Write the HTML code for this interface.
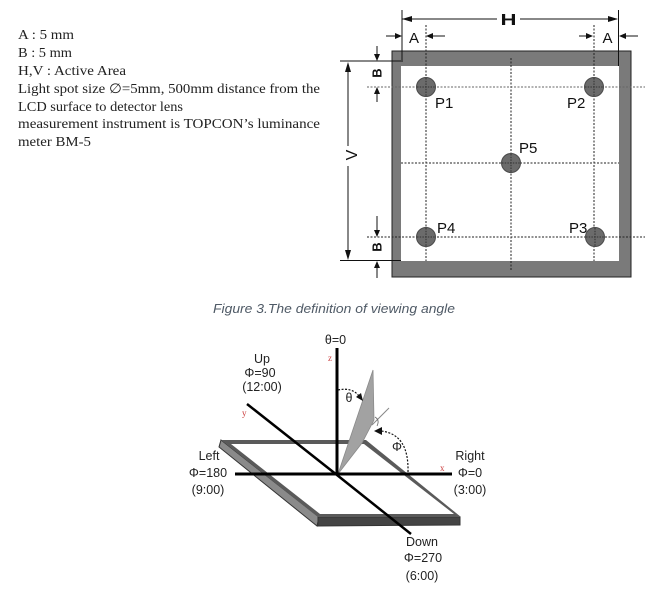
<!DOCTYPE html>
<html><head><meta charset="utf-8"><style>
html,body{margin:0;padding:0;background:#fff;}
svg{display:block;}
.s{font-family:"Liberation Serif",serif;fill:#222;font-size:13.5px;}
.a{font-family:"Liberation Sans",sans-serif;fill:#111;}
.b{font-family:"Liberation Sans",sans-serif;fill:#222;font-size:12.5px;text-anchor:middle;}
.r{font-family:"Liberation Serif",serif;fill:#c44;font-size:9px;}
</style></head><body>
<svg width="672" height="592" viewBox="0 0 672 592" xmlns="http://www.w3.org/2000/svg">
<!-- left text -->
<text class="s" x="18" y="39" textLength="56" lengthAdjust="spacingAndGlyphs">A : 5 mm</text>
<text class="s" x="18" y="57" textLength="54" lengthAdjust="spacingAndGlyphs">B : 5 mm</text>
<text class="s" x="18" y="75" textLength="108" lengthAdjust="spacingAndGlyphs">H,V : Active Area</text>
<text class="s" x="18" y="93" textLength="302" lengthAdjust="spacingAndGlyphs">Light spot size ∅=5mm, 500mm distance from the</text>
<text class="s" x="18" y="111" textLength="165" lengthAdjust="spacingAndGlyphs">LCD surface to detector lens</text>
<text class="s" x="18" y="128" textLength="302" lengthAdjust="spacingAndGlyphs">measurement instrument is TOPCON’s luminance</text>
<text class="s" x="18" y="146" textLength="73" lengthAdjust="spacingAndGlyphs">meter BM-5</text>

<!-- frame -->
<rect x="392" y="51" width="239" height="226" fill="#7a7a7a" stroke="#222" stroke-width="1"/>
<rect x="401" y="66" width="218" height="195" fill="#fff"/>
<!-- extension lines -->
<line x1="402" y1="10" x2="402" y2="62" stroke="#111" stroke-width="1"/>
<line x1="618.5" y1="10" x2="618.5" y2="66" stroke="#111" stroke-width="1"/>
<line x1="340" y1="61" x2="401" y2="61" stroke="#111" stroke-width="1"/>
<line x1="340" y1="260.5" x2="401" y2="260.5" stroke="#111" stroke-width="1"/>
<!-- dashed lines -->
<g stroke="#222" stroke-width="1" stroke-dasharray="2,1.5" fill="none">
<line x1="426" y1="25" x2="426" y2="261"/>
<line x1="594" y1="25" x2="594" y2="261"/>
<line x1="511" y1="58" x2="511" y2="270"/>
<line x1="367" y1="87" x2="645" y2="87" stroke="#666"/>
<line x1="401" y1="163" x2="619" y2="163"/>
<line x1="367" y1="237" x2="645" y2="237"/>
</g>
<!-- circles -->
<g fill="#6b6b6b" stroke="#4a4a4a" stroke-width="1">
<circle cx="426" cy="87" r="9.5"/>
<circle cx="594" cy="87" r="9.5"/>
<circle cx="511" cy="163" r="9.5"/>
<circle cx="426" cy="237" r="9.5"/>
<circle cx="595" cy="237" r="9.5"/>
</g>
<g stroke="#222" stroke-width="0.8" stroke-dasharray="1.5,1.2">
<line x1="426" y1="78" x2="426" y2="96"/><line x1="594" y1="78" x2="594" y2="96"/>
<line x1="511" y1="154" x2="511" y2="172"/><line x1="426" y1="228" x2="426" y2="246"/>
<line x1="595" y1="228" x2="595" y2="246"/>
<line x1="417" y1="87" x2="435" y2="87"/><line x1="585" y1="87" x2="603" y2="87"/>
<line x1="502" y1="163" x2="520" y2="163"/><line x1="417" y1="237" x2="435" y2="237"/>
<line x1="586" y1="237" x2="604" y2="237"/>
</g>
<g class="a" font-size="15">
<text x="435" y="108">P1</text>
<text x="567" y="108">P2</text>
<text x="519" y="153">P5</text>
<text x="437" y="233">P4</text>
<text x="569" y="233">P3</text>
</g>
<!-- H -->
<line x1="402" y1="19" x2="497" y2="19" stroke="#111"/>
<line x1="520" y1="19" x2="617" y2="19" stroke="#111"/>
<polygon points="402,19 412,16 412,22" fill="#111"/>
<polygon points="618,19 608,16 608,22" fill="#111"/>
<text class="a" x="508.5" y="25" font-size="16" font-weight="bold" text-anchor="middle" textLength="16" lengthAdjust="spacingAndGlyphs">H</text>
<!-- A arrows -->
<g stroke="#111" stroke-width="1">
<line x1="386" y1="36" x2="396" y2="36"/><line x1="432" y1="36" x2="445" y2="36"/>
<line x1="579" y1="36" x2="587" y2="36"/><line x1="625" y1="36" x2="638" y2="36"/>
</g>
<g fill="#111">
<polygon points="402,36 395,33 395,39"/><polygon points="426,36 433,33 433,39"/>
<polygon points="593,36 586,33 586,39"/><polygon points="619,36 626,33 626,39"/>
</g>
<text class="a" x="414" y="43" font-size="15" text-anchor="middle">A</text>
<text class="a" x="607.5" y="43" font-size="15" text-anchor="middle">A</text>
<!-- B arrows -->
<g stroke="#111" stroke-width="1">
<line x1="377" y1="46" x2="377" y2="55"/><line x1="377" y1="93" x2="377" y2="102"/>
<line x1="377" y1="216" x2="377" y2="231"/><line x1="377" y1="267" x2="377" y2="278"/>
</g>
<g fill="#111">
<polygon points="377,61 374,54 380,54"/><polygon points="377,87 374,94 380,94"/>
<polygon points="377,237 374,230 380,230"/><polygon points="377,261 374,268 380,268"/>
</g>
<text class="a" font-size="13" font-weight="bold" text-anchor="middle" transform="translate(381.5,73) rotate(-90)">B</text>
<text class="a" font-size="13" font-weight="bold" text-anchor="middle" transform="translate(381.5,247) rotate(-90)">B</text>
<!-- V -->
<line x1="348" y1="70" x2="348" y2="146" stroke="#111"/>
<line x1="348" y1="166" x2="348" y2="252" stroke="#111"/>
<polygon points="348,62 345,72 351,72" fill="#111"/>
<polygon points="348,260 345,250 351,250" fill="#111"/>
<text class="a" font-size="16" text-anchor="middle" transform="translate(357,155) rotate(-90)">V</text>

<!-- caption -->
<text x="213" y="313" font-family="Liberation Sans, sans-serif" font-style="italic" font-size="13" fill="#4f5a66" textLength="242" lengthAdjust="spacingAndGlyphs">Figure 3.The definition of viewing angle</text>

<!-- bottom panel -->
<polygon points="221,440 319,517 317,526 219,447" fill="#8a8a8a" stroke="#333" stroke-width="1"/>
<polygon points="318,517 460,517 460,525 318,526" fill="#444" stroke="#333" stroke-width="1"/>
<polygon points="221,440 366,440 461,517 318,517" fill="#5a5a5a"/>
<polygon points="231,444 364,444 454,514 320,514" fill="#fff"/>
<!-- sheet -->
<polygon points="373,370 374,420 362,443 338,474" fill="#a2a2a2" stroke="#8a8a8a" stroke-width="0.8"/>
<line x1="372" y1="425" x2="389" y2="408" stroke="#888" stroke-width="1"/>
<path d="M375,417 Q380,420 377,426" stroke="#666" fill="none" stroke-width="0.8"/>
<!-- axes -->
<line x1="337" y1="348" x2="337" y2="475" stroke="#000" stroke-width="3"/>
<line x1="235" y1="474" x2="452" y2="474" stroke="#000" stroke-width="3"/>
<polyline points="247,404 337,475 411,534" stroke="#000" stroke-width="2.5" fill="none"/>
<!-- arcs -->
<path d="M338,390 Q352,387 359,396" stroke="#111" stroke-width="1.2" stroke-dasharray="2,1.5" fill="none"/>
<polygon points="363,401 356,397 361,393" fill="#111"/>
<path d="M408,472 Q409,434 381,431" stroke="#111" stroke-width="1.2" stroke-dasharray="2,1.5" fill="none"/>
<polygon points="374,431 382,427 382,435" fill="#111"/>
<text class="b" x="349" y="402" font-size="11">θ</text>
<text class="b" x="397" y="451" font-size="11">Φ</text>
<!-- labels -->
<text class="b" x="335.5" y="344" font-size="12">θ=0</text>
<text class="r" x="328" y="361">z</text>
<text class="r" x="242" y="416">y</text>
<text class="r" x="440" y="471">x</text>
<text class="b" x="262" y="363">Up</text>
<text class="b" x="260" y="377">Φ=90</text>
<text class="b" x="262" y="391">(12:00)</text>
<text class="b" x="209" y="460">Left</text>
<text class="b" x="208" y="477">Φ=180</text>
<text class="b" x="208" y="494">(9:00)</text>
<text class="b" x="470" y="460">Right</text>
<text class="b" x="470" y="477">Φ=0</text>
<text class="b" x="470" y="494">(3:00)</text>
<text class="b" x="422" y="546">Down</text>
<text class="b" x="423" y="562">Φ=270</text>
<text class="b" x="422" y="580">(6:00)</text>
</svg>
</body></html>
